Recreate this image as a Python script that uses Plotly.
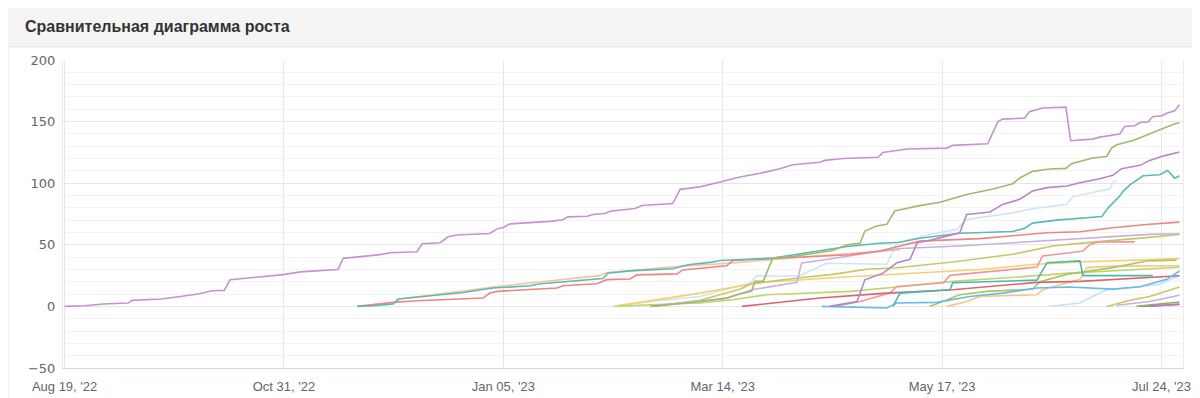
import plotly.graph_objects as go

# ---- axis labels (x is the point index; one tick every 50 points) ----
tick_idx = [0, 50, 100, 150, 200, 250]
tick_labels = ["Aug 19, '22", "Oct 31, '22", "Jan 05, '23", "Mar 14, '23", "May 17, '23", "Jul 24, '23"]
y_ticks = [-50, 0, 50, 100, 150, 200]
y_labels = ["\u221250", "0", "50", "100", "150", "200"]

# ---- series (x = point index, y = growth) ----
purple_x = [0, 4.5, 8.8, 14.5, 15.4, 22, 26.4, 30.7, 33.6, 36.4, 37.7, 44.6, 50.3, 53.7, 62.3, 63.5, 71.9, 74.2, 80.3, 81.5,
            85.6, 87.4, 89.4, 96.9, 98.8, 99.9, 101.5, 110.6, 113.6, 114.7, 119.1, 120.4, 123.2, 124.3, 128.2, 130, 131.6,
            138.6, 140.3, 144.8, 149.4, 153.9, 158.5, 163, 166, 172.1, 173.3, 177.4, 185.4, 186.5, 192, 201.1, 202.4, 210.4,
            212.7, 213.8, 218.8, 219.9, 222.9, 228.2, 229.3, 234.3, 235.9, 240.5, 241.6, 243.9, 245.1, 246.9, 248, 250.1,
            251.2, 253, 254.1]
purple_y = [0, 0.5, 2, 2.7, 4.9, 6, 8, 10.3, 12.7, 13, 21.6, 24, 26, 28, 30, 39, 42, 43.6, 44.4, 50.9,
            51.7, 56.5, 57.9, 59.2, 63.3, 63.8, 67, 69, 70.3, 72.7, 73.2, 74.6, 75.4, 77.3, 78.6, 79.4, 81.9,
            83.5, 95, 97, 101, 105, 108, 111.8, 115, 117, 118.5, 120, 121, 125, 127.7, 128.5, 130.7, 132,
            150, 152, 152.8, 158, 161, 161.7, 134.5, 135.8, 137.4, 139.9, 146, 146.6, 149.3, 149.6, 154, 154.7,
            156.8, 158.7, 163.6]

green_x = [133.5, 144.8, 150.9, 153.2, 156.6, 157.3, 159.2, 161.4, 166.0, 175.1, 178.3, 181.3, 182.4, 185.1, 187.4, 189.2,
           190.4, 194.9, 199.5, 205.6, 211.6, 216.1, 217.7, 220.6, 224.5, 228.2, 229.5, 234.3, 237.5, 238.6, 239.8, 243.5,
           245.8, 248.0, 250.3, 252.6, 254.1]
green_y = [0, 4, 6.8, 9.5, 12.2, 20.3, 20.3, 39.2, 40.5, 45.4, 50, 51.3, 61.2, 65.3, 66.6, 77.4,
           78.4, 81.8, 84.6, 90.8, 95.3, 99.6, 104.2, 109.6, 111.5, 112, 115.8, 120.4, 121.7, 128.5, 131.2, 134.7,
           137.9, 141.2, 144.8, 147.6, 149]

purple2_x = [174.4, 180.6, 182.4, 186.5, 188.1, 189.7, 192.7, 194.3, 197.2, 204.0, 205.6, 210.9, 213.8, 217.7, 220.6, 223.9,
             228.4, 231.4, 235.9, 238.9, 240.9, 245.1, 247.3, 250.3, 254.1]
purple2_y = [0, 4, 21.6, 27, 31, 35.5, 38.2, 51.7, 53.6, 59.8, 74.6, 76.6, 82.8, 86.9, 93.6, 96.4,
             97.7, 100.4, 103.6, 106.4, 111.8, 114.5, 118.5, 122, 125.3]

teal_x = [66.7, 70.3, 74.9, 76, 81.7, 90.8, 97.6, 106.1, 108.4, 122.7, 123.8, 128.9, 138.6, 140.9, 142.1, 147.1, 149.4,
          161.4, 167.6, 175.1, 178.3, 185.8, 190.4, 194.9, 204, 216.1, 218.8, 220.6, 226.1, 236.4, 237.8, 240.5, 241.2,
          242.8, 243.5, 245.8, 249.6, 251.4, 253, 254.1]
teal_y = [0, 0.5, 2, 6, 8, 11.3, 14.9, 16.8, 18.4, 22.7, 26.9, 28.8, 30.5, 32.4, 33.8, 35.7, 37.3,
          39.2, 42.7, 46.5, 48.6, 51.3, 52.1, 55.3, 59.4, 60.8, 63.5, 67.6, 70, 73, 79.8, 89.7, 93.2,
          98.7, 100.5, 106, 106.8, 110.3, 104.1, 106]

peach_x = [68.5, 74.9, 76.5, 82.6, 98.6, 122.0, 123.6, 139.6, 151.7, 167.6, 179.0, 190.4]
peach_y = [0, 3, 6, 8.9, 16.2, 25, 27.5, 32.4, 35.1, 40, 42.7, 46]

red_x = [66.7, 71.9, 74.9, 80.3, 95.4, 96.9, 98.6, 112.2, 113.6, 121.3, 123.6, 128.9, 130.5, 139.6, 140.9, 150.9, 152.3,
         179.0, 185.8, 194.9, 208.6, 223.9, 231.4, 238.9, 246.6, 254.1]
red_y = [0, 2.2, 3.3, 4.6, 6.8, 10.8, 12.2, 14.9, 16.8, 18.4, 21.7, 22.2, 25.6, 26.4, 29.6, 33, 37.3,
         41.9, 45, 53, 55, 59.8, 60.6, 63.8, 66.5, 68.4]

lightblue_x = [125.1, 133.5, 144.8, 149.4, 156.2, 157.8, 161.4, 167.6, 170.6, 173.7, 187.4, 188.6, 189.7, 197.2, 203.3,
               205.6, 210.9, 216.1, 220.6, 228.4, 229.8, 235.9, 238.2, 238.9, 239.8]
lightblue_y = [0, 4, 8, 12.2, 19, 25, 24.5, 25, 30, 35, 34.2, 43.6, 51.7, 58.4, 62.5,
               70.6, 73.2, 75.9, 79.3, 82.8, 89, 93.6, 95.5, 100.4, 102.5]

lavender_x = [133.5, 144.8, 150.9, 156.6, 166.9, 168.0, 173.7, 182.8, 190.4, 204.0, 222.3, 235.9, 247.3, 254.1]
lavender_y = [0, 4, 6.5, 13.5, 19.5, 35.3, 38, 43.2, 47, 49, 53, 56.5, 58.5, 59]

oliveyellow_x = [134.6, 144.8, 153.9, 156.6, 167.6, 175.1, 182.8, 189.7, 202.4, 213.8, 216.1, 225.2, 234.3, 246.6, 254.1]
oliveyellow_y = [0, 5, 14, 18.5, 23.3, 26, 30.1, 31.4, 36, 40.9, 42.3, 49, 52.2, 55.8, 58.4]

yellow_x = [125.1, 144.8, 156.2, 160.1, 175.1, 187.4, 202.4, 208.6, 221.6, 231.4, 254.1]
yellow_y = [0, 10.8, 18, 19.8, 23.3, 25.8, 29.3, 30, 34.2, 36, 38.8]

yellowgreen_x = [125.9, 133.5, 144.8, 152.3, 160.1, 179.0, 191.0, 202.4, 213.8, 229.1, 254.1]
yellowgreen_y = [0, 1.4, 2.8, 5.4, 9.5, 12.2, 16.2, 20.3, 23, 27, 31.8]

darkred_x = [154.4, 167.6, 172.1, 187.4, 202.4, 221.6, 231.4, 254.1]
darkred_y = [0, 5.4, 6.8, 10.8, 13.5, 19.5, 20.3, 24.9]

salmon_x = [175.5, 181.3, 188.1, 189.7, 200.3, 201.8, 221.6, 222.9, 229.1, 232.1, 233.7, 235.9, 243.9]
salmon_y = [0, 4, 10.8, 16.2, 19.2, 25.2, 31.9, 40.9, 43.6, 45, 50.3, 52.4, 52.4]

teal2_x = [188.8, 189.7, 190.4, 201.8, 202.4, 221.6, 223.9, 231.4, 232.1, 248.0]
teal2_y = [0, 5.5, 10.8, 13.5, 19.2, 21.3, 35.5, 36.9, 25, 25]

blue_x = [172.6, 187.4, 189.7, 198.8, 206.3, 213.8, 221.6, 229.1, 238.9, 245.1, 251.2, 254.1]
blue_y = [0, -1.3, 2.7, 3.3, 8.1, 10.8, 14.9, 15.7, 14, 16, 22, 28.7]

olive2_x = [197.2, 201.1, 204.0, 210.2, 220.6, 222.3, 228.4, 238.9, 246.6, 253.4]
olive2_y = [0, 5.4, 9.5, 12.2, 14, 20, 26, 31.5, 36.8, 37.6]

gold2_x = [201.1, 205.6, 208.6, 221.6, 222.9, 225.2, 231.4, 233.0, 238.9, 254.1]
gold2_y = [0, 4, 8.1, 9.5, 13.5, 15.7, 22, 31.5, 32.7, 33]

lightblue2_x = [224.5, 231.4, 234.3, 237.5, 245.1, 249.6, 254.1]
lightblue2_y = [0, 2.8, 8.1, 13.5, 16, 18, 25]

oliveyellow2_x = [237.5, 242.8, 247.3, 250.7, 254.1]
oliveyellow2_y = [0, 5, 8, 12, 15.7]

lavender2_x = [239.8, 247.3, 254.1]
lavender2_y = [1, 4, 9]

green2_x = [244.3, 249.6, 254.1]
green2_y = [0, 2, 3.6]

red2_x = [245.1, 254.1]
red2_y = [0, 1.5]

purple3_x = [247.3, 254.1]
purple3_y = [0, 2]

series = [
    (lightblue_x, lightblue_y, "#cfe5f7"),
    (lightblue2_x, lightblue2_y, "#c6e1f6"),
    (peach_x, peach_y, "#f9c49c"),
    (yellow_x, yellow_y, "#f6d06f"),
    (gold2_x, gold2_y, "#f7c584"),
    (yellowgreen_x, yellowgreen_y, "#bcd66e"),
    (oliveyellow_x, oliveyellow_y, "#cbc662"),
    (oliveyellow2_x, oliveyellow2_y, "#cbc662"),
    (olive2_x, olive2_y, "#a9c65f"),
    (lavender_x, lavender_y, "#c8b0de"),
    (lavender2_x, lavender2_y, "#c8b0de"),
    (salmon_x, salmon_y, "#f09898"),
    (darkred_x, darkred_y, "#d9666d"),
    (red2_x, red2_y, "#d9666d"),
    (blue_x, blue_y, "#66bbe8"),
    (teal2_x, teal2_y, "#4fb5b0"),
    (green2_x, green2_y, "#8fb06a"),
    (purple3_x, purple3_y, "#b07cc6"),
    (red_x, red_y, "#ee8484"),
    (teal_x, teal_y, "#5bbab5"),
    (purple2_x, purple2_y, "#b884c8"),
    (green_x, green_y, "#9dbb6e"),
    (purple_x, purple_y, "#c394cb"),
]

fig = go.Figure()
for xs, ys, col in series:
    fig.add_trace(go.Scatter(x=xs, y=ys, mode="lines", line=dict(color=col, width=1.6),
                             hoverinfo="skip", showlegend=False))

# the page body has an 8px margin, so the figure starts at page (8, 8)
OFF = 8
W, H = 1192, 390
L, R, T, B = 55, 17, 52, 30
pw, ph = W - L - R, H - T - B


def px(x):  # page x -> paper x
    return (x - OFF - L) / pw


def py(y):  # page y -> paper y
    return (H - B - (y - OFF)) / ph


fig.update_layout(
    width=W, height=H,
    margin=dict(l=L, r=R, t=T, b=B, autoexpand=False),
    paper_bgcolor="white", plot_bgcolor="white",
    showlegend=False,
    xaxis=dict(range=[-0.36, 254.9], tickvals=tick_idx, ticktext=tick_labels,
               showgrid=True, gridcolor="#e8e8e8", gridwidth=1, zeroline=False,
               showline=True, linecolor="#ccd6eb", linewidth=1, ticks="",
               automargin=False,
               tickfont=dict(family="Liberation Sans, Arial", size=13, color="#666666"),
               ticklabelstandoff=6),
    yaxis=dict(range=[-50, 200], tickvals=y_ticks, ticktext=y_labels,
               showgrid=True, gridcolor="#e6e6e6", gridwidth=1, zeroline=False,
               showline=True, mirror=True, linecolor="#ebebeb", ticks="",
               automargin=False,
               minor=dict(tickvals=[v for v in range(-40, 200, 10) if v % 50 != 0],
                          showgrid=True, gridcolor="#f3f3f3", gridwidth=1),
               tickfont=dict(family="DejaVu Sans, Verdana", size=13, color="#666666"),
               ticklabelstandoff=4),
    shapes=[
        dict(type="rect", xref="paper", yref="paper", layer="below",
             x0=px(8), x1=px(1195), y0=py(405), y1=py(6),
             line=dict(color="#e4e4e4", width=1), fillcolor="rgba(0,0,0,0)"),
        dict(type="rect", xref="paper", yref="paper", layer="below",
             x0=px(8.5), x1=px(1194.5), y0=py(47), y1=py(6.5),
             line=dict(width=0), fillcolor="#f5f5f5"),
        dict(type="line", xref="paper", yref="paper", layer="below",
             x0=px(8.5), x1=px(1194.5), y0=py(47), y1=py(47),
             line=dict(color="#e6e6e6", width=1)),
    ],
    annotations=[
        dict(text="<b>Сравнительная диаграмма роста</b>", xref="paper", yref="paper",
             x=px(23), y=py(27), xanchor="left", yanchor="middle", showarrow=False,
             font=dict(family="Liberation Sans, Arial", size=16, color="#333333")),
    ],
)

fig.write_html("out.html")
